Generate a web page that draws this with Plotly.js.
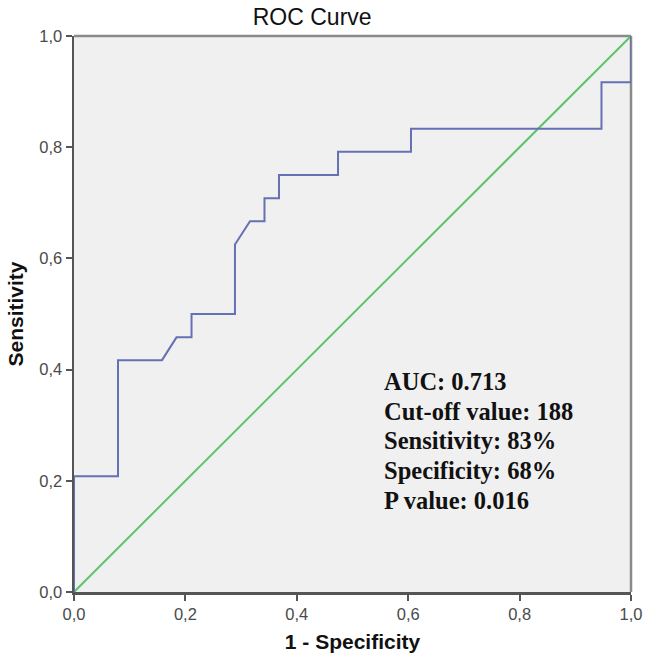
<!DOCTYPE html>
<html>
<head>
<meta charset="utf-8">
<script src="https://cdn.plot.ly/plotly-3.0.1.min.js"></script>
<style>html,body{margin:0;padding:0;background:#fff;}#chart{width:645px;height:664px;}</style>
</head>
<body>
<div id="chart"></div>
<script>
// ROC curve (1 - specificity, sensitivity)
var rocFpr = [0, 0, 0.079, 0.079, 0.158, 0.184, 0.211, 0.211, 0.289, 0.289, 0.316, 0.342, 0.342, 0.368, 0.368, 0.474, 0.474, 0.605, 0.605, 0.947, 0.947, 1, 1];
var rocTpr = [0, 0.208, 0.208, 0.417, 0.417, 0.458, 0.458, 0.5, 0.5, 0.625, 0.667, 0.667, 0.708, 0.708, 0.75, 0.75, 0.792, 0.792, 0.833, 0.833, 0.917, 0.917, 1];
// Reference line
var refX = [0, 1];
var refY = [0, 1];
var tickVals = [0, 0.2, 0.4, 0.6, 0.8, 1.0];
var statsLines = ["AUC: 0.713", "Cut-off value: 188", "Sensitivity: 83%", "Specificity: 68%", "P value: 0.016"];

var traces = [
  {x: refX, y: refY, mode: 'lines', line: {color: '#5cc46c', width: 2}, hoverinfo: 'skip'},
  {x: rocFpr, y: rocTpr, mode: 'lines', line: {color: '#6670b4', width: 2}, hoverinfo: 'skip'}
];

var axisCommon = {
  range: [0, 1], tickvals: tickVals, tickformat: '.1f',
  showgrid: false, zeroline: false, showline: true, linecolor: '#555555', linewidth: 2.5,
  ticks: 'outside', ticklen: 6, tickwidth: 2, tickcolor: '#555555',
  tickfont: {family: 'Liberation Sans, Arial, sans-serif', size: 16.5, color: '#4a4a4a'},
  mirror: false, fixedrange: true
};

var layout = {
  width: 645, height: 664,
  margin: {l: 74, r: 14, t: 36, b: 72},
  paper_bgcolor: '#ffffff', plot_bgcolor: '#f0f0f0',
  separators: ', ',
  showlegend: false,
  title: {text: 'ROC Curve', xref: 'container', x: 0.484, xanchor: 'center', yref: 'container', y: 0.974, yanchor: 'middle',
          font: {family: 'Liberation Sans, Arial, sans-serif', size: 23, color: '#111'}},
  xaxis: Object.assign({}, axisCommon, {
    title: {text: '<b>1 - Specificity</b>', standoff: 12,
            font: {family: 'Liberation Sans, Arial, sans-serif', size: 21, color: '#111'}}
  }),
  yaxis: Object.assign({}, axisCommon, {
    title: {text: '<b>Sensitivity</b>', standoff: 10,
            font: {family: 'Liberation Sans, Arial, sans-serif', size: 21, color: '#111'}}
  }),
  shapes: [
    {type: 'line', layer: 'below', xref: 'paper', yref: 'paper', x0: 0, x1: 1, y0: 1, y1: 1, line: {color: '#8a8a8a', width: 2.5}},
    {type: 'line', layer: 'below', xref: 'paper', yref: 'paper', x0: 1, x1: 1, y0: 0, y1: 1, line: {color: '#8a8a8a', width: 2.5}}
  ],
  annotations: statsLines.map(function (t, i) {
    return {xref: 'paper', yref: 'paper', x: 0.553, y: 0.378 - i * 0.0532, xanchor: 'left', yanchor: 'middle',
            text: '<b>' + t + '</b>', showarrow: false,
            font: {family: 'Liberation Serif, Times New Roman, serif', size: 24.5, color: '#111'}};
  })
};

Plotly.newPlot('chart', traces, layout, {displayModeBar: false, staticPlot: true});
</script>
</body>
</html>
